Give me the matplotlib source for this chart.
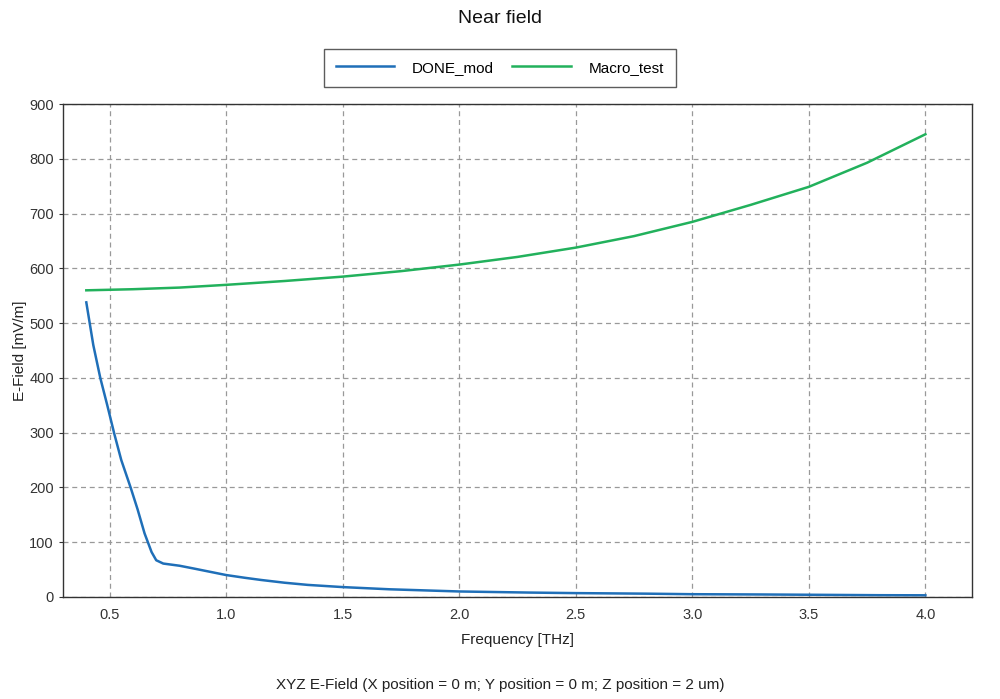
import matplotlib.pyplot as plt

plt.rcParams['font.family'] = ['Liberation Sans', 'DejaVu Sans']

# DONE_mod curve
freq_done = [0.40, 0.43, 0.46, 0.49, 0.52, 0.55, 0.59, 0.62, 0.65, 0.68, 0.70,
             0.73, 0.80, 0.86, 0.93, 1.00, 1.08, 1.15, 1.25, 1.35, 1.50, 1.70,
             2.00, 2.30, 2.50, 2.80, 3.00, 3.30, 3.50, 3.80, 4.00]
efield_done = [538, 460, 400, 350, 298, 250, 200, 160, 116, 82, 67,
               61, 57, 52, 46, 40, 35, 31, 26, 22, 18, 14,
               10, 8, 7, 6, 5, 4.5, 4, 3.2, 3]

# Macro_test curve
freq_macro = [0.40, 0.60, 0.80, 1.00, 1.25, 1.50, 1.75, 2.00, 2.25, 2.50,
              2.75, 3.00, 3.25, 3.50, 3.75, 4.00]
efield_macro = [560, 562, 565, 570, 577, 585, 595, 607, 621, 638,
                659, 685, 716, 749, 793, 845]

xticks = [0.5, 1.0, 1.5, 2.0, 2.5, 3.0, 3.5, 4.0]
yticks = [0, 100, 200, 300, 400, 500, 600, 700, 800, 900]

fig = plt.figure(figsize=(10, 6.99), dpi=100)
ax = fig.add_axes([0.063, 0.146, 0.909, 0.705])

ax.plot(freq_done, efield_done, color='#1f6fb8', lw=1.8, label='DONE_mod')
ax.plot(freq_macro, efield_macro, color='#22b15c', lw=1.8, label='Macro_test')

ax.set_xlim(0.3, 4.2)
ax.set_ylim(0, 900)
ax.set_xticks(xticks)
ax.set_xticklabels([f'{t:.1f}' for t in xticks])
ax.set_yticks(yticks)
ax.tick_params(axis='both', labelsize=10.5, colors='#333333', length=3, width=0.8)
ax.tick_params(axis='x', length=0, pad=8)
for sp in ax.spines.values():
    sp.set_color('#333333')
    sp.set_linewidth(1.0)

ax.grid(True, linestyle=(0, (4, 3)), color='#999999', lw=0.9)

ax.set_xlabel('Frequency [THz]', fontsize=11, color='#222222', labelpad=8)
ax.set_ylabel('E-Field [mV/m]', fontsize=11, color='#222222', labelpad=2)

fig.suptitle('Near field', fontsize=14, y=0.985, color='#111111')
leg = fig.legend(loc='center', bbox_to_anchor=(0.5, 0.903), ncol=2, fontsize=11,
                 frameon=True, fancybox=False, edgecolor='#333333',
                 handlelength=3.8, columnspacing=1.2, handletextpad=1.2,
                 borderpad=0.8, borderaxespad=0)
leg.get_frame().set_linewidth(1.0)

fig.text(0.5, 0.015, 'XYZ E-Field (X position = 0 m; Y position = 0 m; Z position = 2 um)',
         ha='center', fontsize=11, color='#222222')

fig.savefig('out.png', dpi=100)
